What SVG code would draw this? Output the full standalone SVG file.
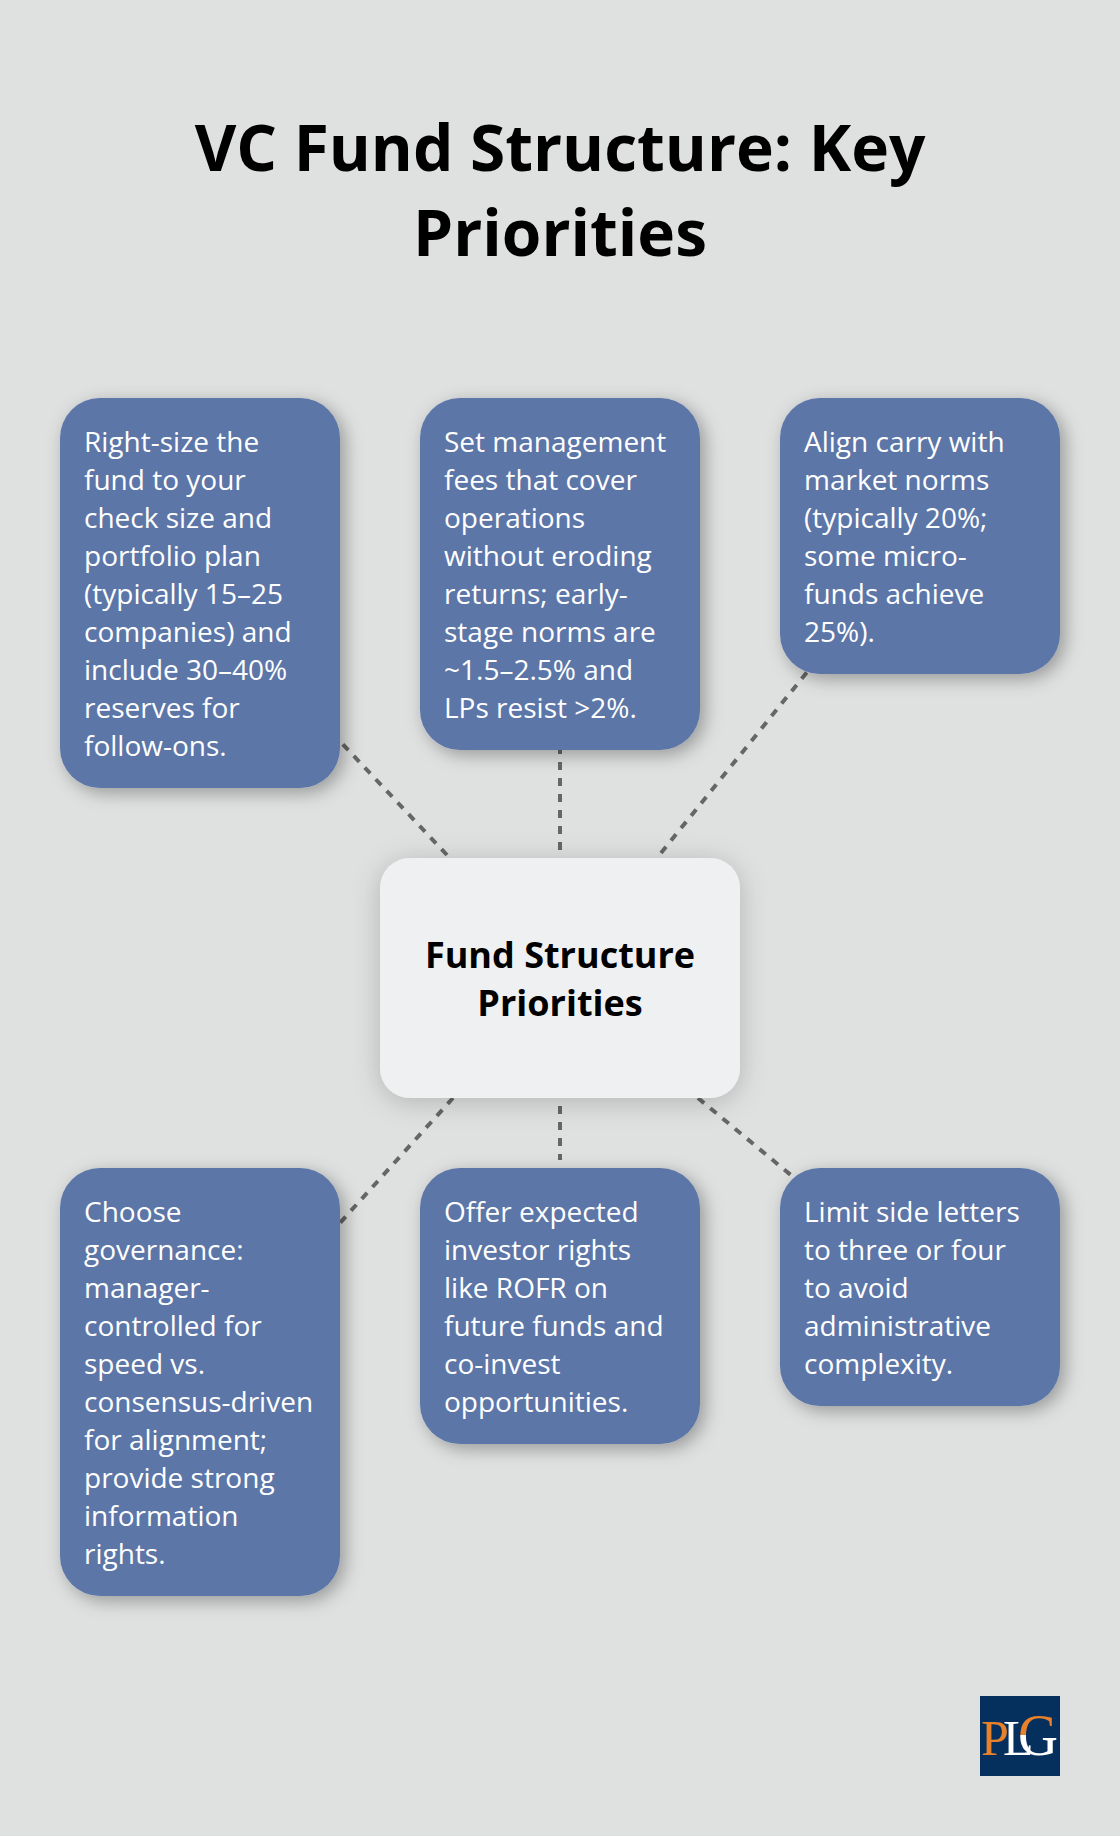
<svg xmlns="http://www.w3.org/2000/svg" width="1120" height="1836" viewBox="0 0 1120 1836">
<style>
.t{font-family:"Open Sans","Noto Sans",sans-serif}
.title{font-size:64px;font-weight:700;fill:#000;text-anchor:middle}
.b{fill:#5c76a8;filter:url(#s)}
.n{font-size:28px;fill:#fff}
.c{font-size:36px;font-weight:700;fill:#000;text-anchor:middle}
.l{stroke:#666;stroke-width:4;stroke-dasharray:8 8;fill:none}
</style>
<defs>
<filter id="s" x="-30%" y="-30%" width="160%" height="160%"><feDropShadow dx="5" dy="5" stdDeviation="9" flood-color="#000" flood-opacity=".32"/></filter>
<filter id="sc" x="-30%" y="-30%" width="160%" height="160%"><feDropShadow dx="0" dy="4" stdDeviation="14" flood-color="#000" flood-opacity=".2"/></filter>
<linearGradient id="g" x1="0" y1="0" x2="0" y2="1"><stop offset=".5" stop-color="#e8822a"/><stop offset=".5" stop-color="#fff"/></linearGradient>
</defs>
<rect width="1120" height="1836" fill="#dfe1e0"/>
<text class="t title" x="560" y="171">VC Fund Structure: Key</text>
<text class="t title" x="560" y="256">Priorities</text>
<g id="connectors">
<line class="l" x1="447" y1="855" x2="320" y2="720"/>
<line class="l" x1="560" y1="850" x2="560" y2="750"/>
<line class="l" x1="661" y1="853" x2="820" y2="656"/>
<line class="l" x1="453" y1="1098" x2="320" y2="1245"/>
<line class="l" x1="560" y1="1106" x2="560" y2="1160"/>
<line class="l" x1="698" y1="1098" x2="810" y2="1191"/>
</g>
<g id="n1"><rect class="b" x="60" y="398" width="280" height="390" rx="40"/>
<text class="t n"><tspan x="84" y="452">Right-size the</tspan><tspan x="84" y="490">fund to your</tspan><tspan x="84" y="528">check size and</tspan><tspan x="84" y="566">portfolio plan</tspan><tspan x="84" y="604">(typically 15–25</tspan><tspan x="84" y="642">companies) and</tspan><tspan x="84" y="680">include 30–40%</tspan><tspan x="84" y="718">reserves for</tspan><tspan x="84" y="756">follow-ons.</tspan></text></g>
<g id="n2"><rect class="b" x="420" y="398" width="280" height="352" rx="40"/>
<text class="t n"><tspan x="444" y="452">Set management</tspan><tspan x="444" y="490">fees that cover</tspan><tspan x="444" y="528">operations</tspan><tspan x="444" y="566">without eroding</tspan><tspan x="444" y="604">returns; early-</tspan><tspan x="444" y="642">stage norms are</tspan><tspan x="444" y="680">~1.5–2.5% and</tspan><tspan x="444" y="718">LPs resist &gt;2%.</tspan></text></g>
<g id="n3"><rect class="b" x="780" y="398" width="280" height="276" rx="40"/>
<text class="t n"><tspan x="804" y="452">Align carry with</tspan><tspan x="804" y="490">market norms</tspan><tspan x="804" y="528">(typically 20%;</tspan><tspan x="804" y="566">some micro-</tspan><tspan x="804" y="604">funds achieve</tspan><tspan x="804" y="642">25%).</tspan></text></g>
<g id="center"><rect x="380" y="858" width="360" height="240" rx="30" fill="#eef0f2" filter="url(#sc)"/>
<text class="t c"><tspan x="560" y="968">Fund Structure</tspan><tspan x="560" y="1016">Priorities</tspan></text></g>
<g id="n4"><rect class="b" x="60" y="1168" width="280" height="428" rx="40"/>
<text class="t n"><tspan x="84" y="1222">Choose</tspan><tspan x="84" y="1260">governance:</tspan><tspan x="84" y="1298">manager-</tspan><tspan x="84" y="1336">controlled for</tspan><tspan x="84" y="1374">speed vs.</tspan><tspan x="84" y="1412">consensus-driven</tspan><tspan x="84" y="1450">for alignment;</tspan><tspan x="84" y="1488">provide strong</tspan><tspan x="84" y="1526">information</tspan><tspan x="84" y="1564">rights.</tspan></text></g>
<g id="n5"><rect class="b" x="420" y="1168" width="280" height="276" rx="40"/>
<text class="t n"><tspan x="444" y="1222">Offer expected</tspan><tspan x="444" y="1260">investor rights</tspan><tspan x="444" y="1298">like ROFR on</tspan><tspan x="444" y="1336">future funds and</tspan><tspan x="444" y="1374">co-invest</tspan><tspan x="444" y="1412">opportunities.</tspan></text></g>
<g id="n6"><rect class="b" x="780" y="1168" width="280" height="238" rx="40"/>
<text class="t n"><tspan x="804" y="1222">Limit side letters</tspan><tspan x="804" y="1260">to three or four</tspan><tspan x="804" y="1298">to avoid</tspan><tspan x="804" y="1336">administrative</tspan><tspan x="804" y="1374">complexity.</tspan></text></g>
<g id="logo"><rect x="980" y="1696" width="80" height="80" fill="#05305e"/>
<text x="981" y="1755" font-family="Liberation Serif,serif" font-size="50" fill="#e8822a">P</text>
<text x="1003" y="1755" font-family="Liberation Serif,serif" font-size="50" fill="#fff">L</text>
<text x="1018" y="1755" font-family="Liberation Serif,serif" font-size="60" fill="url(#g)" textLength="40" lengthAdjust="spacingAndGlyphs">G</text></g>
</svg>
